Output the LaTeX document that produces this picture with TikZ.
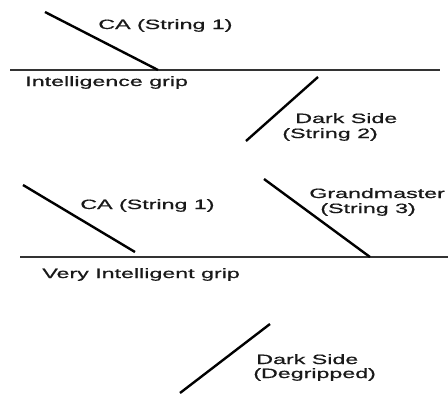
\documentclass[tikz,border=0pt]{standalone}
\usepackage{fontspec}
\setmainfont{Liberation Sans}
\newfontfamily\lblfont[FakeBold=0.6]{Liberation Sans}
\usepackage{tikz}

\tikzset{
  grip/.style={line width=1.6pt, color=black!80},
  string/.style={line width=2.4pt, color=black},
  lbl/.style={anchor=base west, inner sep=0pt, xscale=1.72, text=black!90,
    font=\lblfont\fontsize{13.5}{15}\selectfont}
}

\begin{document}
\begin{tikzpicture}[x=1pt,y=-1pt]
\useasboundingbox (0,0) rectangle (448,394);

% First grip: line, two strings.
\coordinate (g1l) at (10,70);
\coordinate (g1r) at (440,70);
\coordinate (ca1a) at (45,12);
\coordinate (ca1b) at (158,70);
\coordinate (ds1a) at (318,77);
\coordinate (ds1b) at (246,141);

\draw[grip] (g1l) -- (g1r);
\draw[string] (ca1a) -- (ca1b);
\draw[string] (ds1a) -- (ds1b);

\node[lbl] (ca1) at (98,29) {CA (String 1)};
\node[lbl] (grip1) at (25,86) {Intelligence grip};
\node[lbl] (ds1) at (295,123) {Dark Side};
\node[lbl] (str2) at (282,138) {(String 2)};

% Second grip, with three strings.
\coordinate (g2l) at (20,257);
\coordinate (g2r) at (448,257);
\coordinate (ca2a) at (23,185);
\coordinate (ca2b) at (135,252);
\coordinate (gma) at (264,179);
\coordinate (gmb) at (370,257);
\coordinate (ds2a) at (270,324);
\coordinate (ds2b) at (180,393);

\draw[grip] (g2l) -- (g2r);
\draw[string] (ca2a) -- (ca2b);
\draw[string] (gma) -- (gmb);
\draw[string] (ds2a) -- (ds2b);

\node[lbl] (ca2) at (80,209) {CA (String 1)};
\node[lbl] (gm) at (309,198) {Grandmaster};
\node[lbl] (str3) at (320,213) {(String 3)};
\node[lbl] (grip2) at (42,278) {Very Intelligent grip};
\node[lbl] (ds2) at (256,364) {Dark Side};
\node[lbl] (degr) at (253,378) {(Degripped)};

\end{tikzpicture}
\end{document}
